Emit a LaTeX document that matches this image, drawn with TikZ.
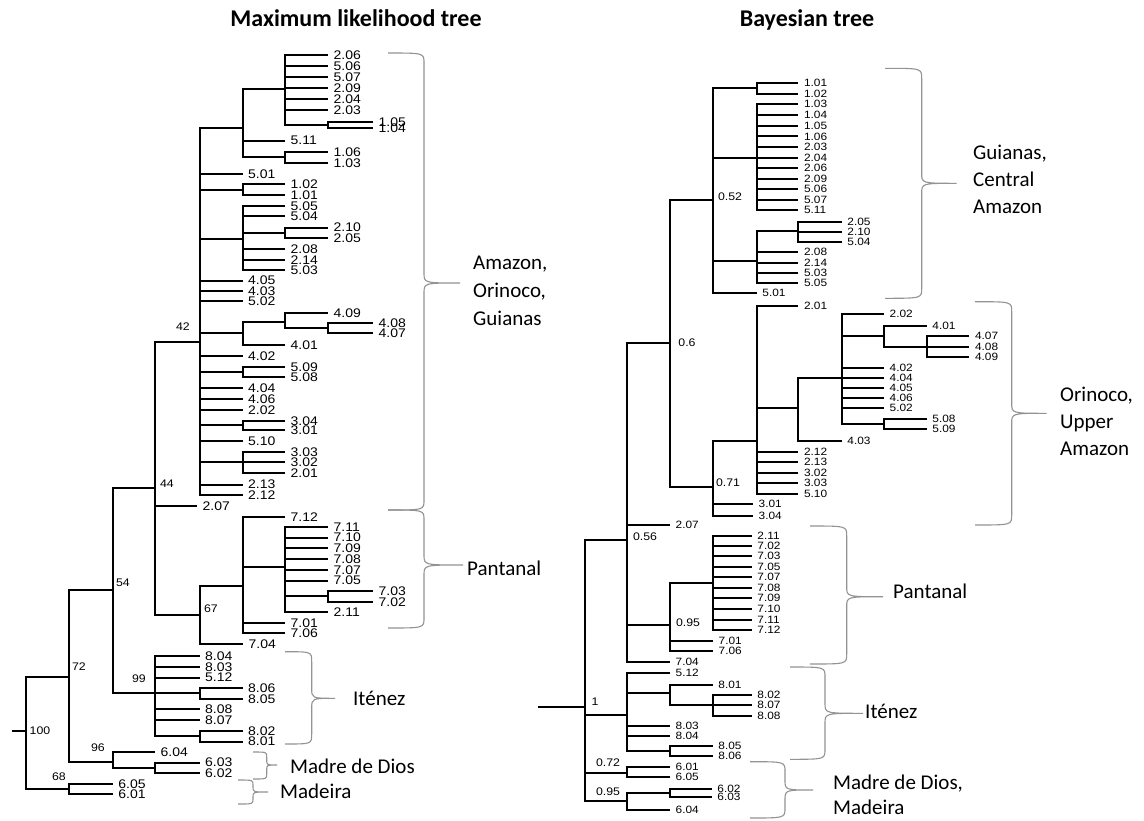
\documentclass[tikz,border=0pt]{standalone}
\usepackage{fontspec}
\setmainfont{Liberation Sans}
\newfontfamily\numfont[FakeStretch=1.12]{Liberation Sans}
\newfontfamily\calfont{Carlito}
\newcommand\inn[4]{\coordinate (#1) at (#3,#4); \draw[br] (#2) |- (#1);}
\newcommand\tipL[5]{\coordinate (#1) at (#3,#4); \draw[br] (#2) |- (#1); \node[leafL] (#1t) at (#1) {#5};}
\newcommand\tipR[5]{\coordinate (#1) at (#3,#4); \draw[br] (#2) |- (#1); \node[leafR] (#1t) at (#1) {#5};}
\newcommand\mybrace[7]{\draw[brc] (#1,#4) .. controls (#2,#4) .. (#2,#4+#7) -- (#2,#5-#7) .. controls (#2,#5) .. (#3,#5) .. controls (#2,#5) .. (#2,#5+#7) -- (#2,#6-#7) .. controls (#2,#6) .. (#1,#6);}
\begin{document}
\begin{tikzpicture}[x=1pt,y=-1pt,
  br/.style={line width=2pt, black},
  brc/.style={line width=1.1pt, gray!85},
  leafL/.style={anchor=west, inner sep=0pt, xshift=5.5pt, font=\numfont\fontsize{12.5}{12.5}\selectfont},
  leafR/.style={anchor=west, inner sep=0pt, xshift=5.5pt, font=\numfont\fontsize{10.6}{10.6}\selectfont},
  ilab/.style={inner sep=0pt, font=\numfont\fontsize{11}{11}\selectfont},
  title/.style={anchor=base, inner sep=0pt, font=\calfont\bfseries\fontsize{24}{24}\selectfont},
  grp/.style={anchor=base west, inner sep=0pt, font=\calfont\fontsize{21}{21}\selectfont}]
\useasboundingbox (0,0) rectangle (1144,820);
\fill[white] (0,0) rectangle (1144,820);
% titles
\node[title] (t1) at (356,26.5) {Maximum likelihood tree};
\node[title] (t2) at (807,26.5) {Bayesian tree};
% ================= LEFT TREE =================
\coordinate (Lstub) at (12,731);
\coordinate (Lroot) at (26,731);
\draw[br] (Lstub) -- (Lroot);
\inn{L72}{Lroot}{69}{676.7}
\inn{L68}{Lroot}{69}{789}
\tipL{L605}{L68}{112.7}{784}{6.05}
\tipL{L601}{L68}{112.7}{794}{6.01}
\inn{L54}{L72}{112.7}{590}
\inn{L96}{L72}{112.7}{761.7}
\tipL{L604}{L96}{155}{752.3}{6.04}
\inn{L6b}{L96}{155}{768}
\tipL{L603}{L6b}{199.5}{762.6}{6.03}
\tipL{L602}{L6b}{199.5}{773.3}{6.02}
\inn{L44}{L54}{155}{488.3}
\inn{L99}{L54}{155}{693.3}
\tipL{L804}{L99}{199.5}{656}{8.04}
\tipL{L803}{L99}{199.5}{667}{8.03}
\tipL{L512}{L99}{199.5}{677.5}{5.12}
\inn{L8a}{L99}{199.5}{693.3}
\tipL{L806}{L8a}{242.5}{688}{8.06}
\tipL{L805}{L8a}{242.5}{698.7}{8.05}
\tipL{L808}{L99}{199.5}{709.3}{8.08}
\tipL{L807}{L99}{199.5}{720}{8.07}
\inn{L8b}{L99}{199.5}{736}
\tipL{L802}{L8b}{242.5}{730.7}{8.02}
\tipL{L801}{L8b}{242.5}{741.5}{8.01}
\inn{L42}{L44}{199.5}{341.7}
\tipL{L207}{L44}{197}{506}{2.07}
\inn{L67}{L44}{199.5}{615}
\inn{LP}{L67}{243}{586}
\tipL{L704}{L67}{243}{644.3}{7.04}
\tipL{L712}{LP}{285}{516.7}{7.12}
\inn{LQ}{LP}{285}{566.7}
\tipL{L701}{LP}{285}{623.3}{7.01}
\tipL{L706}{LP}{285}{633.3}{7.06}
\tipL{L711}{LQ}{328}{526.7}{7.11}
\tipL{L710}{LQ}{328}{537.5}{7.10}
\tipL{L709}{LQ}{328}{548.3}{7.09}
\tipL{L708}{LQ}{328}{559}{7.08}
\tipL{L707}{LQ}{328}{569.8}{7.07}
\tipL{L705}{LQ}{328}{580.5}{7.05}
\inn{LQ2}{LQ}{328}{596.3}
\tipL{L703}{LQ2}{373}{591}{7.03}
\tipL{L702}{LQ2}{373}{601.7}{7.02}
\tipL{L211}{LQ}{328}{612.3}{2.11}
% top part of clade 42
\inn{LA}{L42}{242.5}{128.3}
\inn{LB}{LA}{285}{89.3}
\tipL{L206}{LB}{328}{55}{2.06}
\tipL{L506}{LB}{328}{66}{5.06}
\tipL{L507}{LB}{328}{77}{5.07}
\tipL{L209}{LB}{328}{88}{2.09}
\tipL{L204}{LB}{328}{99}{2.04}
\tipL{L203}{LB}{328}{110}{2.03}
\inn{LC}{LB}{328}{125}
\tipL{L105}{LC}{373}{121.7}{1.05}
\tipL{L104}{LC}{373}{128.3}{1.04}
\tipL{L511}{LA}{285}{140.7}{5.11}
\inn{LD}{LA}{285}{157.3}
\tipL{L106}{LD}{328}{152}{1.06}
\tipL{L103}{LD}{328}{162.7}{1.03}
\tipL{L501}{L42}{242.5}{174}{5.01}
\inn{L1}{L42}{242.5}{189.7}
\tipL{L102}{L1}{285}{184.3}{1.02}
\tipL{L101}{L1}{285}{195}{1.01}
\inn{LE}{L42}{242.5}{239}
\tipL{L505}{LE}{285}{205.7}{5.05}
\tipL{L504}{LE}{285}{216.4}{5.04}
\inn{LF}{LE}{285}{233}
\tipL{L210}{LF}{328}{227.5}{2.10}
\tipL{L205}{LF}{328}{238.2}{2.05}
\tipL{L208}{LE}{285}{249}{2.08}
\tipL{L214}{LE}{285}{259.7}{2.14}
\tipL{L503}{LE}{285}{270.4}{5.03}
\tipL{L405}{L42}{242.5}{280.5}{4.05}
\tipL{L403}{L42}{242.5}{291}{4.03}
\tipL{L502}{L42}{242.5}{301.3}{5.02}
\inn{LG}{L42}{242.5}{333.3}
\inn{LH}{LG}{285}{321.7}
\tipL{L409}{LH}{328}{312.7}{4.09}
\inn{LI}{LH}{328}{328}
\tipL{L408}{LI}{373}{323}{4.08}
\tipL{L407}{LI}{373}{333.3}{4.07}
\tipL{L401}{LG}{285}{345}{4.01}
\tipL{L402}{L42}{242.5}{356}{4.02}
\inn{L5}{L42}{242.5}{372}
\tipL{L509}{L5}{285}{366.7}{5.09}
\tipL{L508}{L5}{285}{377.3}{5.08}
\tipL{L404}{L42}{242.5}{388.3}{4.04}
\tipL{L406}{L42}{242.5}{399.2}{4.06}
\tipL{L202}{L42}{242.5}{410}{2.02}
\inn{L3a}{L42}{242.5}{425.3}
\tipL{L304}{L3a}{285}{420.7}{3.04}
\tipL{L301}{L3a}{285}{430}{3.01}
\tipL{L510}{L42}{242.5}{441}{5.10}
\inn{L3b}{L42}{242.5}{462.3}
\tipL{L303}{L3b}{285}{451.7}{3.03}
\tipL{L302}{L3b}{285}{462.3}{3.02}
\tipL{L201}{L3b}{285}{472.7}{2.01}
\tipL{L213}{L42}{242.5}{484.5}{2.13}
\tipL{L212}{L42}{242.5}{495}{2.12}
% left support values
\node[ilab] (lb42) at (183,327) {42};
\node[ilab] (lb44) at (167,484) {44};
\node[ilab] (lb54) at (123,583) {54};
\node[ilab] (lb67) at (211,609) {67};
\node[ilab] (lb72) at (79,667) {72};
\node[ilab] (lb99) at (139,679) {99};
\node[ilab] (lb100) at (40,731) {100};
\node[ilab] (lb96) at (98,748) {96};
\node[ilab] (lb68) at (59,777) {68};
% left braces and groups
\mybrace{388}{424}{460}{53}{283}{510}{10}
\mybrace{388}{424}{463}{510}{565}{628}{10}
\mybrace{285}{311.7}{335}{651.7}{698.3}{744}{10}
\mybrace{253}{266.7}{277}{752}{765}{779}{5}
\mybrace{238}{253}{268}{780}{792}{804}{5}
\node[grp] (gA1) at (473,269) {Amazon,};
\node[grp] (gA2) at (473,297) {Orinoco,};
\node[grp] (gA3) at (473,325) {Guianas};
\node[grp] (gP) at (467,575) {Pantanal};
\node[grp] (gI) at (353,705) {Iténez};
\node[grp] (gM) at (290,773) {Madre de Dios};
\node[grp] (gMa) at (280,798) {Madeira};
% ================= RIGHT TREE =================
\coordinate (Rstub) at (538,706.7);
\coordinate (Rroot) at (585,706.7);
\draw[br] (Rstub) -- (Rroot);
\inn{R056}{Rroot}{626.7}{540}
\inn{RI}{Rroot}{626.7}{715}
\inn{R072}{Rroot}{626.7}{772.7}
\inn{R095b}{Rroot}{626.7}{800.7}
\inn{R06}{R056}{670}{342.7}
\tipR{R207}{R056}{670}{525}{2.07}
\inn{RP}{R056}{670}{625}
\tipR{R704}{R056}{670}{661.7}{7.04}
\inn{RG}{R06}{712.7}{200}
\inn{R071}{R06}{712.7}{487.3}
\inn{R1}{RG}{756.7}{88.3}
\tipR{R101}{R1}{798.3}{83.3}{1.01}
\tipR{R102}{R1}{798.3}{94}{1.02}
\inn{RS}{RG}{756.7}{157.7}
\tipR{R103}{RS}{798.3}{104.3}{1.03}
\tipR{R104}{RS}{798.3}{115}{1.04}
\tipR{R105}{RS}{798.3}{125.7}{1.05}
\tipR{R106}{RS}{798.3}{136.4}{1.06}
\tipR{R203}{RS}{798.3}{147}{2.03}
\tipR{R204}{RS}{798.3}{157.7}{2.04}
\tipR{R206}{RS}{798.3}{168}{2.06}
\tipR{R209}{RS}{798.3}{178.5}{2.09}
\tipR{R506}{RS}{798.3}{189}{5.06}
\tipR{R507}{RS}{798.3}{199.5}{5.07}
\tipR{R511}{RS}{798.3}{210}{5.11}
\inn{RT}{RG}{756.7}{260.7}
\inn{RU}{RT}{798.3}{231}
\tipR{R205}{RU}{841.7}{221.5}{2.05}
\tipR{R210}{RU}{841.7}{231.5}{2.10}
\tipR{R504}{RU}{841.7}{241.7}{5.04}
\tipR{R208}{RT}{798.3}{252.3}{2.08}
\tipR{R214}{RT}{798.3}{262.5}{2.14}
\tipR{R503}{RT}{798.3}{272.7}{5.03}
\tipR{R505}{RT}{798.3}{283.3}{5.05}
\tipR{R501}{RG}{756.7}{293.3}{5.01}
\inn{RV}{R071}{756.7}{440.7}
\tipR{R201}{RV}{798.3}{306}{2.01}
\inn{RW}{RV}{798.3}{408.3}
\inn{RX}{RW}{841.7}{378.3}
\tipR{R202}{RX}{884}{314.3}{2.02}
\inn{RY}{RX}{884}{336}
\tipR{R401}{RY}{926.7}{326}{4.01}
\inn{RZ}{RY}{926.7}{346.7}
\tipR{R407}{RZ}{969.3}{336.3}{4.07}
\tipR{R408}{RZ}{969.3}{346.7}{4.08}
\tipR{R409}{RZ}{969.3}{357}{4.09}
\tipR{R402}{RX}{884}{367.7}{4.02}
\tipR{R404}{RX}{884}{378.3}{4.04}
\tipR{R405}{RX}{884}{388.3}{4.05}
\tipR{R406}{RX}{884}{398.3}{4.06}
\tipR{R502}{RX}{884}{408.3}{5.02}
\inn{R58}{RX}{884}{424.3}
\tipR{R508}{R58}{926.7}{419.3}{5.08}
\tipR{R509}{R58}{926.7}{429.3}{5.09}
\tipR{R403}{RW}{841.7}{440.7}{4.03}
\tipR{R212}{RV}{798.3}{451.7}{2.12}
\tipR{R213}{RV}{798.3}{461.9}{2.13}
\tipR{R302}{RV}{798.3}{472.5}{3.02}
\tipR{R303}{RV}{798.3}{483.3}{3.03}
\tipR{R510}{RV}{798.3}{494}{5.10}
\tipR{R301}{R071}{753}{504.3}{3.01}
\tipR{R304}{R071}{753}{515.7}{3.04}
% Pantanal
\inn{RR}{RP}{712.7}{582.7}
\tipR{R211}{RR}{751.7}{536}{2.11}
\tipR{R702}{RR}{751.7}{546}{7.02}
\tipR{R703}{RR}{751.7}{556.3}{7.03}
\tipR{R705}{RR}{751.7}{566.7}{7.05}
\tipR{R707}{RR}{751.7}{577.3}{7.07}
\tipR{R708}{RR}{751.7}{587.7}{7.08}
\tipR{R709}{RR}{751.7}{598.3}{7.09}
\tipR{R710}{RR}{751.7}{609}{7.10}
\tipR{R711}{RR}{751.7}{619.7}{7.11}
\tipR{R712}{RR}{751.7}{630}{7.12}
\tipR{R701}{RP}{713}{641}{7.01}
\tipR{R706}{RP}{713}{651}{7.06}
% Itenez
\tipR{R512}{RI}{670}{672.7}{5.12}
\inn{RI1}{RI}{670}{693.3}
\tipR{R801}{RI1}{712.7}{685}{8.01}
\inn{RI2}{RI1}{712.7}{705}
\tipR{R802}{RI2}{751.7}{695}{8.02}
\tipR{R807}{RI2}{751.7}{705}{8.07}
\tipR{R808}{RI2}{751.7}{715.5}{8.08}
\tipR{R803}{RI}{670}{726}{8.03}
\tipR{R804}{RI}{670}{735.7}{8.04}
\inn{RI3}{RI}{670}{751}
\tipR{R805}{RI3}{712.7}{745.7}{8.05}
\tipR{R806}{RI3}{712.7}{755.7}{8.06}
% Madre de Dios / Madeira
\tipR{R601}{R072}{670}{766.7}{6.01}
\tipR{R605}{R072}{670}{777.3}{6.05}
\inn{RB}{R095b}{670}{793}
\tipR{R602}{RB}{711.7}{789.3}{6.02}
\tipR{R603}{RB}{711.7}{797.3}{6.03}
\tipR{R604}{R095b}{670}{810}{6.04}
% right support values
\node[ilab] (rb052) at (730,197) {0.52};
\node[ilab] (rb06) at (687,343) {0.6};
\node[ilab] (rb071) at (728,483) {0.71};
\node[ilab] (rb056) at (645,537) {0.56};
\node[ilab] (rb095a) at (688,623) {0.95};
\node[ilab] (rb1) at (595,702) {1};
\node[ilab] (rb072) at (608,763) {0.72};
\node[ilab] (rb095b) at (608,792) {0.95};
% right braces and groups
\mybrace{885}{921.7}{956.7}{68.3}{183.3}{298.3}{10}
\mybrace{975}{1011.7}{1046.7}{301.7}{413.3}{525}{10}
\mybrace{810}{846.7}{883}{526}{596.7}{664}{10}
\mybrace{790}{825}{863}{667}{713.3}{759.3}{10}
\mybrace{750}{785}{813}{761.7}{790}{818}{10}
\node[grp] (hG1) at (973,159.3) {Guianas,};
\node[grp] (hG2) at (973,186.5) {Central};
\node[grp] (hG3) at (973,213.5) {Amazon};
\node[grp] (hO1) at (1060,401.7) {Orinoco,};
\node[grp] (hO2) at (1060,428.5) {Upper};
\node[grp] (hO3) at (1060,455.5) {Amazon};
\node[grp] (hP) at (893,598) {Pantanal};
\node[grp] (hI) at (865,718.3) {Iténez};
\node[grp] (hM1) at (833,789.3) {Madre de Dios,};
\node[grp] (hM2) at (833,814) {Madeira};
\end{tikzpicture}
\end{document}
